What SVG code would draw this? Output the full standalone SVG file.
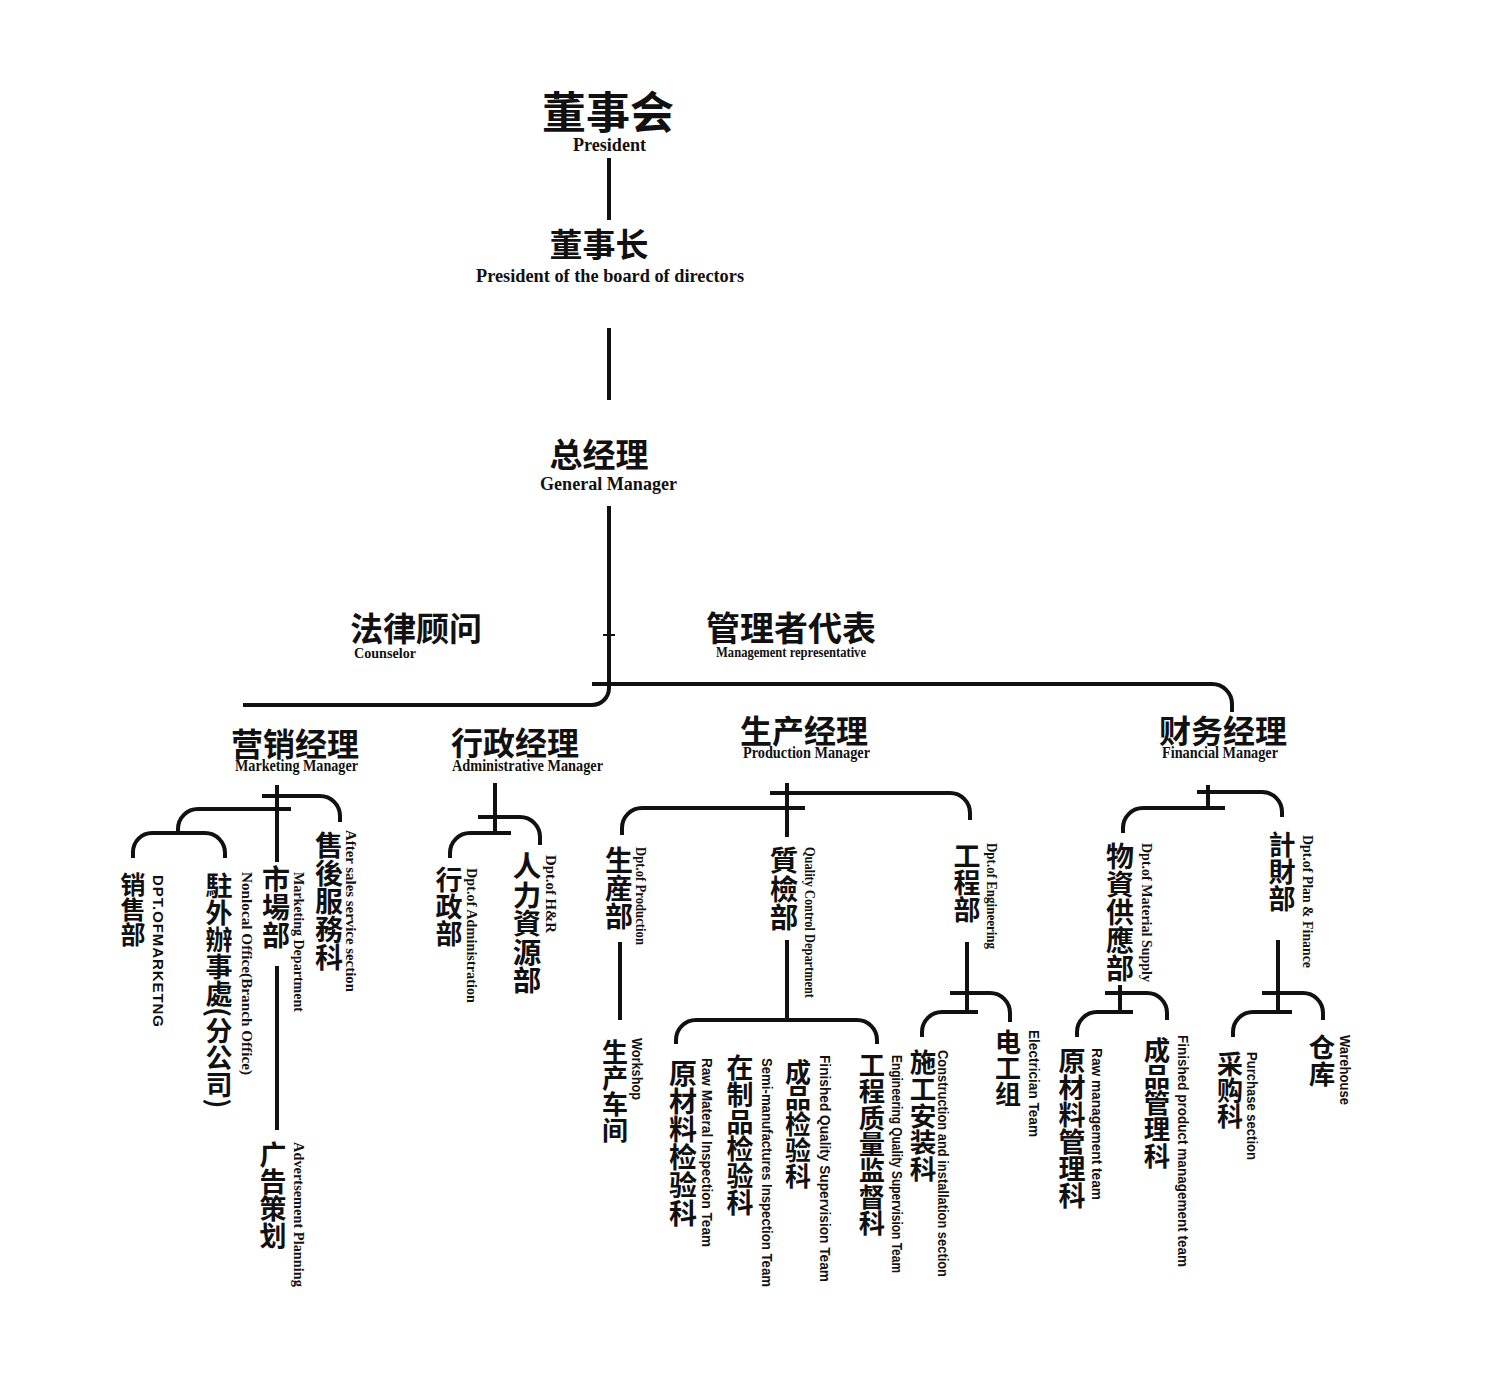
<svg xmlns="http://www.w3.org/2000/svg" width="1500" height="1393" viewBox="0 0 1500 1393">
<style>
.cn{font-family:"Noto Sans CJK SC","Noto Sans CJK TC",sans-serif;font-weight:700;fill:#111}
.cv{writing-mode:vertical-rl}
.en{font-family:"Liberation Serif","Times New Roman",serif;font-weight:700;fill:#111}
.es{font-family:"Liberation Sans",Arial,sans-serif;font-weight:700;fill:#111}
.ln{fill:none;stroke:#111;stroke-width:4}
.tk{fill:none;stroke:#111;stroke-width:2}
</style>
<rect width="1500" height="1393" fill="#fff"/>
<g id="connectors">
<path class="ln" d="M609,158 V220"/>
<path class="ln" d="M609,328 V400"/>
<path class="ln" d="M609,506 V688 A17,17 0 0 1 592,705 H243"/>
<path class="tk" d="M603,635 H615"/>
<path class="ln" d="M592,684 H1212 A20,20 0 0 1 1232,704 V712"/>
<path class="ln" d="M277,785 V862 M277,966 V1130"/>
<path class="ln" d="M262,796 H320 A20,20 0 0 1 340,816 V822"/>
<path class="ln" d="M291,809 H198 A20,20 0 0 0 178,829 V833"/>
<path class="ln" d="M133,858 V852 A19,19 0 0 1 152,833 H205 A20,20 0 0 1 225,853 V858"/>
<path class="ln" d="M495,783 V834"/>
<path class="ln" d="M478,817 H520 A20,20 0 0 1 540,837 V845"/>
<path class="ln" d="M511,833 H470 A20,20 0 0 0 450,853 V858"/>
<path class="ln" d="M787,783 V837"/>
<path class="ln" d="M770,793 H950 A20,20 0 0 1 970,813 V820"/>
<path class="ln" d="M805,808 H642 A20,20 0 0 0 622,828 V835"/>
<path class="ln" d="M620,942 V1020"/>
<path class="ln" d="M787,940 V1020"/>
<path class="ln" d="M676,1044 V1040 A20,20 0 0 1 696,1020 H857 A20,20 0 0 1 877,1040 V1044"/>
<path class="ln" d="M967,942 V1013"/>
<path class="ln" d="M950,993 H990 A20,20 0 0 1 1010,1013 V1022"/>
<path class="ln" d="M978,1012 H942 A20,20 0 0 0 922,1032 V1037"/>
<path class="ln" d="M1208,785 V808"/>
<path class="ln" d="M1197,792 H1262 A20,20 0 0 1 1282,812 V817"/>
<path class="ln" d="M1225,808 H1143 A20,20 0 0 0 1123,828 V833"/>
<path class="ln" d="M1120,985 V1013"/>
<path class="ln" d="M1105,993 H1147 A20,20 0 0 1 1167,1013 V1020"/>
<path class="ln" d="M1133,1012 H1097 A20,20 0 0 0 1077,1032 V1037"/>
<path class="ln" d="M1278,940 V1012"/>
<path class="ln" d="M1262,993 H1303 A20,20 0 0 1 1323,1013 V1020"/>
<path class="ln" d="M1292,1012 H1253 A20,20 0 0 0 1233,1032 V1037"/>
</g>
<g id="president">
<text class="cn" x="608" y="129" font-size="44" text-anchor="middle">董事会</text>
<text class="en" x="573" y="151" font-size="18" textLength="73" lengthAdjust="spacingAndGlyphs">President</text>
</g>
<g id="chairman">
<text class="cn" x="599" y="257" font-size="33" text-anchor="middle">董事长</text>
<text class="en" x="476" y="282" font-size="19" textLength="268" lengthAdjust="spacingAndGlyphs">President of the board of directors</text>
</g>
<g id="general-manager">
<text class="cn" x="599" y="467" font-size="33" text-anchor="middle">总经理</text>
<text class="en" x="540" y="490" font-size="19" textLength="137" lengthAdjust="spacingAndGlyphs">General Manager</text>
</g>
<g id="counselor">
<text class="cn" x="416" y="641" font-size="33" text-anchor="middle">法律顾问</text>
<text class="en" x="354" y="658" font-size="15" textLength="62" lengthAdjust="spacingAndGlyphs">Counselor</text>
</g>
<g id="mgmt-rep">
<text class="cn" x="791" y="641" font-size="34" text-anchor="middle">管理者代表</text>
<text class="en" x="716" y="657" font-size="14" textLength="150" lengthAdjust="spacingAndGlyphs">Management representative</text>
</g>
<g id="marketing-manager">
<text class="cn" x="295" y="756" font-size="32" text-anchor="middle">营销经理</text>
<text class="en" x="235" y="771" font-size="16" textLength="123" lengthAdjust="spacingAndGlyphs">Marketing Manager</text>
</g>
<g id="admin-manager">
<text class="cn" x="515" y="755" font-size="32" text-anchor="middle">行政经理</text>
<text class="en" x="452" y="771" font-size="16" textLength="151" lengthAdjust="spacingAndGlyphs">Administrative Manager</text>
</g>
<g id="production-manager">
<text class="cn" x="804" y="743" font-size="32" text-anchor="middle">生产经理</text>
<text class="en" x="743" y="758" font-size="16" textLength="127" lengthAdjust="spacingAndGlyphs">Production Manager</text>
</g>
<g id="financial-manager">
<text class="cn" x="1223" y="743" font-size="32" text-anchor="middle">财务经理</text>
<text class="en" x="1162" y="758" font-size="16" textLength="116" lengthAdjust="spacingAndGlyphs">Financial Manager</text>
</g>
<g id="sales-dept">
<text class="cn cv" x="133" y="872" font-size="25">销售部</text>
<text class="es" transform="translate(158,875) rotate(90)" dominant-baseline="central" font-size="15" textLength="152" lengthAdjust="spacing">DPT.OFMARKETNG</text>
</g>
<g id="branch-office">
<text class="cn cv" x="219" y="872" font-size="27">駐外辦事處(分公司)</text>
<text class="en" transform="translate(247,872) rotate(90)" dominant-baseline="central" font-size="15" textLength="203" lengthAdjust="spacingAndGlyphs">Nonlocal Office(Branch Office)</text>
</g>
<g id="marketing-dept">
<text class="cn cv" x="276" y="865" font-size="28">市場部</text>
<text class="en" transform="translate(299,872) rotate(90)" dominant-baseline="central" font-size="15" textLength="140" lengthAdjust="spacingAndGlyphs">Marketing Department</text>
</g>
<g id="after-sales">
<text class="cn cv" x="329" y="831" font-size="28">售後服務科</text>
<text class="en" transform="translate(351,830) rotate(90)" dominant-baseline="central" font-size="15" textLength="162" lengthAdjust="spacingAndGlyphs">After sales service section</text>
</g>
<g id="advertising">
<text class="cn cv" x="273" y="1141" font-size="27">广告策划</text>
<text class="en" transform="translate(299,1142) rotate(90)" dominant-baseline="central" font-size="15" textLength="145" lengthAdjust="spacingAndGlyphs">Advertsement Planning</text>
</g>
<g id="admin-dept">
<text class="cn cv" x="449" y="866" font-size="27">行政部</text>
<text class="en" transform="translate(472,868) rotate(90)" dominant-baseline="central" font-size="15" textLength="135" lengthAdjust="spacingAndGlyphs">Dpt.of Administration</text>
</g>
<g id="hr-dept">
<text class="cn cv" x="527" y="852" font-size="28.5">人力資源部</text>
<text class="en" transform="translate(551,855) rotate(90)" dominant-baseline="central" font-size="15" textLength="78" lengthAdjust="spacingAndGlyphs">Dpt.of H&amp;R</text>
</g>
<g id="production-dept">
<text class="cn cv" x="619" y="846" font-size="28">生産部</text>
<text class="en" transform="translate(641,847) rotate(90)" dominant-baseline="central" font-size="15" textLength="98" lengthAdjust="spacingAndGlyphs">Dpt.of Production</text>
</g>
<g id="workshop">
<text class="cn cv" x="615" y="1039" font-size="26">生产车间</text>
<text class="es" transform="translate(637,1038) rotate(90)" dominant-baseline="central" font-size="14" textLength="62" lengthAdjust="spacingAndGlyphs">Workshop</text>
</g>
<g id="qc-dept">
<text class="cn cv" x="784" y="846" font-size="28.5">質檢部</text>
<text class="en" transform="translate(810,847) rotate(90)" dominant-baseline="central" font-size="15" textLength="151" lengthAdjust="spacingAndGlyphs">Quality Control Department</text>
</g>
<g id="raw-inspection">
<text class="cn cv" x="683" y="1059" font-size="28">原材料检验科</text>
<text class="es" transform="translate(707,1058) rotate(90)" dominant-baseline="central" font-size="15" textLength="189" lengthAdjust="spacingAndGlyphs">Raw Materal Inspection Team</text>
</g>
<g id="semi-inspection">
<text class="cn cv" x="740" y="1054" font-size="27">在制品检验科</text>
<text class="es" transform="translate(767,1058) rotate(90)" dominant-baseline="central" font-size="15" textLength="229" lengthAdjust="spacingAndGlyphs">Semi-manufactures Inspection Team</text>
</g>
<g id="finished-inspection">
<text class="cn cv" x="798" y="1059" font-size="26">成品检验科</text>
<text class="es" transform="translate(825,1055) rotate(90)" dominant-baseline="central" font-size="15" textLength="227" lengthAdjust="spacingAndGlyphs">Finished Quality Supervision Team</text>
</g>
<g id="eng-quality">
<text class="cn cv" x="872" y="1052" font-size="26.3">工程质量监督科</text>
<text class="es" transform="translate(897,1055) rotate(90)" dominant-baseline="central" font-size="15" textLength="218" lengthAdjust="spacingAndGlyphs">Engineering Quality Supervision Team</text>
</g>
<g id="engineering-dept">
<text class="cn cv" x="967" y="842" font-size="27">工程部</text>
<text class="en" transform="translate(992,843) rotate(90)" dominant-baseline="central" font-size="15" textLength="106" lengthAdjust="spacingAndGlyphs">Dpt.of Engineering</text>
</g>
<g id="construction">
<text class="cn cv" x="923" y="1049" font-size="26.6">施工安装科</text>
<text class="es" transform="translate(943,1050) rotate(90)" dominant-baseline="central" font-size="15" textLength="227" lengthAdjust="spacingAndGlyphs">Construction and installation section</text>
</g>
<g id="electrician">
<text class="cn cv" x="1008" y="1029" font-size="26">电工组</text>
<text class="es" transform="translate(1034,1030) rotate(90)" dominant-baseline="central" font-size="15" textLength="107" lengthAdjust="spacingAndGlyphs">Electrician Team</text>
</g>
<g id="material-supply">
<text class="cn cv" x="1120" y="842" font-size="28">物資供應部</text>
<text class="en" transform="translate(1147,843) rotate(90)" dominant-baseline="central" font-size="15" textLength="139" lengthAdjust="spacingAndGlyphs">Dpt.of Material Supply</text>
</g>
<g id="plan-finance">
<text class="cn cv" x="1282" y="831" font-size="27">計財部</text>
<text class="en" transform="translate(1308,835) rotate(90)" dominant-baseline="central" font-size="15" textLength="133" lengthAdjust="spacingAndGlyphs">Dpt.of Plan &amp; Finance</text>
</g>
<g id="raw-management">
<text class="cn cv" x="1072" y="1047" font-size="27">原材料管理科</text>
<text class="es" transform="translate(1097,1048) rotate(90)" dominant-baseline="central" font-size="15" textLength="152" lengthAdjust="spacingAndGlyphs">Raw management team</text>
</g>
<g id="finished-management">
<text class="cn cv" x="1157" y="1037" font-size="26.4">成品管理科</text>
<text class="es" transform="translate(1183,1035) rotate(90)" dominant-baseline="central" font-size="15" textLength="232" lengthAdjust="spacingAndGlyphs">Finished product management team</text>
</g>
<g id="purchase">
<text class="cn cv" x="1230" y="1051" font-size="26">采购科</text>
<text class="es" transform="translate(1252,1052) rotate(90)" dominant-baseline="central" font-size="15" textLength="108" lengthAdjust="spacingAndGlyphs">Purchase section</text>
</g>
<g id="warehouse">
<text class="cn cv" x="1322" y="1034" font-size="26.5">仓库</text>
<text class="es" transform="translate(1345,1035) rotate(90)" dominant-baseline="central" font-size="15" textLength="70" lengthAdjust="spacingAndGlyphs">Warehouse</text>
</g>
</svg>
